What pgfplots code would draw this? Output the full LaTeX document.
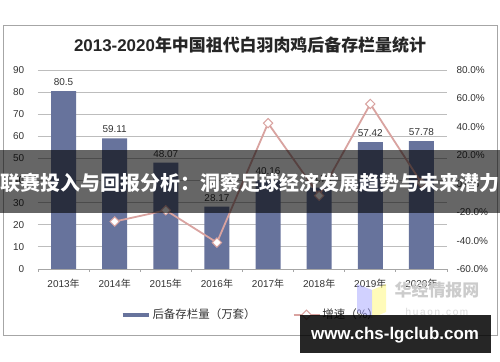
\documentclass[border=0pt]{standalone}
\usepackage{pgfplots}
\pgfplotsset{compat=1.18}
\usepackage{fontspec}
\setmainfont{Liberation Sans}
\newfontfamily\cjk{Noto Sans CJK SC}
\definecolor{barc}{HTML}{67739C}
\definecolor{linec}{HTML}{D9A3A0}
\definecolor{gridc}{HTML}{BDBDBD}
\definecolor{txt}{HTML}{333333}
\pgfplotsset{/pgf/number format/assume math mode=true}
\begin{document}
\begin{tikzpicture}
\path[use as bounding box] (0bp,0bp) rectangle (500bp,362bp);
\fill[white] (0bp,0bp) rectangle (500bp,362bp);
\draw[gray!70, line width=0.8bp] (3bp,27bp) rectangle (497bp,337bp);
\node[font=\fontsize{17}{19}\selectfont\bfseries, text=black!85] at (250bp,317bp) {2013-2020\cjk{年中国祖代白羽肉鸡后备存栏量统计}};

\begin{axis}[
  at={(38bp,93bp)}, anchor=south west, scale only axis,
  width=409bp, height=199bp,
  xmin=-0.5, xmax=7.5, ymin=0, ymax=90,
  ytick={0,10,...,90},
  xtick={0,...,7},
  xticklabels={2013\cjk{年},2014\cjk{年},2015\cjk{年},2016\cjk{年},2017\cjk{年},2018\cjk{年},2019\cjk{年},2020\cjk{年}},
  minor xtick={-0.5,0.5,...,7.5},
  axis x line*=bottom, axis y line*=left,
  y axis line style={draw=none},
  x axis line style={gray!70, line width=0.8bp},
  major x tick style={draw=none},
  minor x tick style={gray!70, line width=0.8bp},
  ytick style={draw=none},
  minor tick length=3bp, tick align=outside,
  ymajorgrids, grid style={gridc, line width=0.8bp},
  ticklabel style={font=\fontsize{10}{12}\selectfont, text=txt},
  yticklabel style={xshift=-6bp},
  xticklabel style={yshift=-2bp},
  ybar, bar width=25bp,
  nodes near coords,
  every node near coord/.append style={font=\fontsize{10}{12}\selectfont, text=txt, yshift=2bp},
]
\addplot[fill=barc, draw=none] coordinates {(0,80.5)(1,59.11)(2,48.07)(3,28.17)(4,40.16)(5,36.79)(6,57.42)(7,57.78)};
\end{axis}

\begin{axis}[
  at={(38bp,93bp)}, anchor=south west, scale only axis,
  width=409bp, height=199bp,
  xmin=-0.5, xmax=7.5, ymin=-60, ymax=80,
  axis x line=none, axis y line*=right,
  y axis line style={draw=none}, ytick style={draw=none},
  ytick={-60,-40,...,80},
  yticklabels={-60.0\%,-40.0\%,-20.0\%,0.0\%,20.0\%,40.0\%,60.0\%,80.0\%},
  ticklabel style={font=\fontsize{10}{12}\selectfont, text=txt},
  yticklabel style={xshift=6bp},
  legend style={at={(0.52,-0.23)}, anchor=center, draw=none, fill=none,
    legend columns=2, font=\fontsize{11.5}{13}\selectfont\cjk, text=txt,
    /tikz/every even column/.append style={column sep=35bp}},
  legend image code/.code={\draw[mark repeat=2,mark phase=2,#1] plot coordinates {(0bp,0bp)(13bp,0bp)(26bp,0bp)};},
]
\addlegendimage{barc, line width=4bp, mark=none}
\addlegendentry{后备存栏量（万套）}
\addplot[linec, line width=1.8bp, mark=square*, mark size=3.3bp,
  mark options={rotate=45, fill=white, draw=linec, line width=1bp}]
  coordinates {(1,-26.6)(2,-18.7)(3,-41.4)(4,42.6)(5,-8.4)(6,56.1)(7,0.6)};
\addlegendentry{增速（\%）}
\end{axis}

% logo watermark
\fill[blue!40, opacity=0.45] (357bp,78bp) -- (372bp,72bp) -- (372bp,44bp) -- (357bp,50bp) -- cycle;
\fill[yellow!60, opacity=0.45] (372bp,72bp) -- (386bp,78bp) -- (386bp,50bp) -- (372bp,44bp) -- cycle;
\node[font=\fontsize{17}{19}\selectfont\cjk\bfseries, text=gray!40] at (437bp,72bp) {华经情报网};
\node[font=\fontsize{10}{12}\selectfont, text=gray!30] at (437bp,50bp) {h\,u\,a\,o\,n\,.\,c\,o\,m};

% banner overlay
\fill[black, opacity=0.6] (0bp,149bp) rectangle (500bp,212bp);
\node[font=\fontsize{20}{24}\selectfont\cjk\bfseries, text=white] at (250bp,179bp) {联赛投入与回报分析：洞察足球经济发展趋势与未来潜力};

% site watermark
\fill[black, opacity=0.85] (300bp,9bp) rectangle (491bp,47bp);
\node[font=\fontsize{17}{20}\selectfont\bfseries, text=white] at (395bp,27bp) {www.chs-lgclub.com};
\end{tikzpicture}
\end{document}
